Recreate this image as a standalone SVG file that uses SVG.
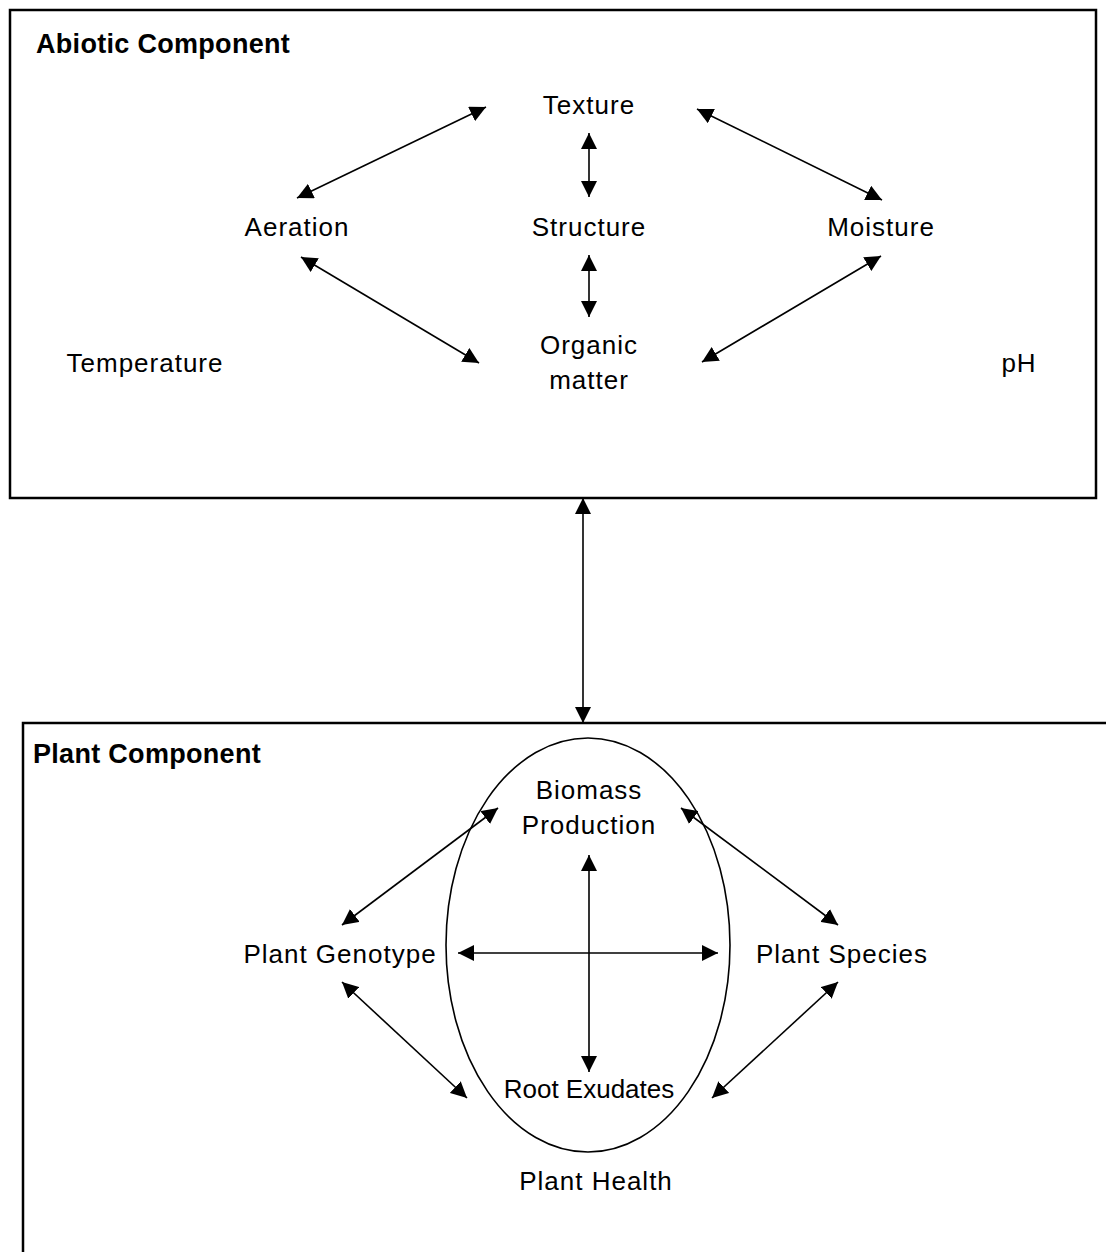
<svg xmlns="http://www.w3.org/2000/svg" width="1106" height="1252" viewBox="0 0 1106 1252">
  <style>
    .frame { fill: none; stroke: #000; stroke-width: 2.5; }
    .lbl { font-family: "Liberation Sans", Arial, sans-serif; font-size: 26px; letter-spacing: 1px; fill: #000; text-anchor: middle; }
    .tight { letter-spacing: 0; }
    .title { font-family: "Liberation Sans", Arial, sans-serif; font-size: 27px; font-weight: bold; fill: #000; letter-spacing: 0.3px; }
    .link { stroke: #000; stroke-width: 1.6; fill: none; marker-start: url(#head); marker-end: url(#head); }
  </style>
  <defs>
    <marker id="head" viewBox="0 0 16 16" refX="16" refY="8" markerWidth="16" markerHeight="16" markerUnits="userSpaceOnUse" orient="auto-start-reverse">
      <path d="M0,0 L16,8 L0,16 z" fill="#000"/>
    </marker>
  </defs>

  <!-- Abiotic component panel -->
  <g id="abiotic-panel">
    <rect class="frame" x="10" y="10" width="1086" height="488"/>
    <text class="title" x="36" y="53">Abiotic Component</text>
  </g>
  <g id="texture"><text class="lbl" x="589" y="114">Texture</text></g>
  <g id="aeration"><text class="lbl" x="297" y="236">Aeration</text></g>
  <g id="structure"><text class="lbl" x="589" y="236">Structure</text></g>
  <g id="moisture"><text class="lbl" x="881" y="236">Moisture</text></g>
  <g id="organic-matter">
    <text class="lbl" x="589" y="354">Organic</text>
    <text class="lbl" x="589" y="389">matter</text>
  </g>
  <g id="temperature"><text class="lbl" x="145" y="372">Temperature</text></g>
  <g id="ph"><text class="lbl" x="1019" y="372">pH</text></g>

  <!-- Plant component panel -->
  <g id="plant-panel">
    <rect class="frame" x="23" y="723" width="1100" height="600"/>
    <text class="title" x="33" y="763">Plant Component</text>
  </g>
  <g id="plant-health">
    <ellipse cx="588" cy="945" rx="142" ry="207" fill="none" stroke="#000" stroke-width="1.6"/>
    <text class="lbl" x="596" y="1190">Plant Health</text>
  </g>
  <g id="biomass-production">
    <text class="lbl" x="589" y="799">Biomass</text>
    <text class="lbl" x="589" y="834">Production</text>
  </g>
  <g id="plant-genotype"><text class="lbl" x="340" y="963">Plant Genotype</text></g>
  <g id="plant-species"><text class="lbl" x="842" y="963">Plant Species</text></g>
  <g id="root-exudates"><text class="lbl tight" x="589" y="1098">Root Exudates</text></g>

  <!-- Two-way links -->
  <g id="connectors">
    <line class="link" x1="486" y1="107" x2="297" y2="198"/>
    <line class="link" x1="589" y1="133" x2="589" y2="197"/>
    <line class="link" x1="589" y1="255" x2="589" y2="317"/>
    <line class="link" x1="301" y1="257" x2="479" y2="363"/>
    <line class="link" x1="697" y1="109" x2="882" y2="200"/>
    <line class="link" x1="881" y1="256" x2="702" y2="362"/>
    <line class="link" x1="583" y1="498" x2="583" y2="723"/>
    <line class="link" x1="498" y1="808" x2="342" y2="925"/>
    <line class="link" x1="681" y1="808" x2="838" y2="925"/>
    <line class="link" x1="342" y1="982" x2="467" y2="1098"/>
    <line class="link" x1="838" y1="982" x2="712" y2="1098"/>
    <line class="link" x1="458" y1="953" x2="718" y2="953"/>
    <line class="link" x1="589" y1="855" x2="589" y2="1072"/>
  </g>
</svg>
